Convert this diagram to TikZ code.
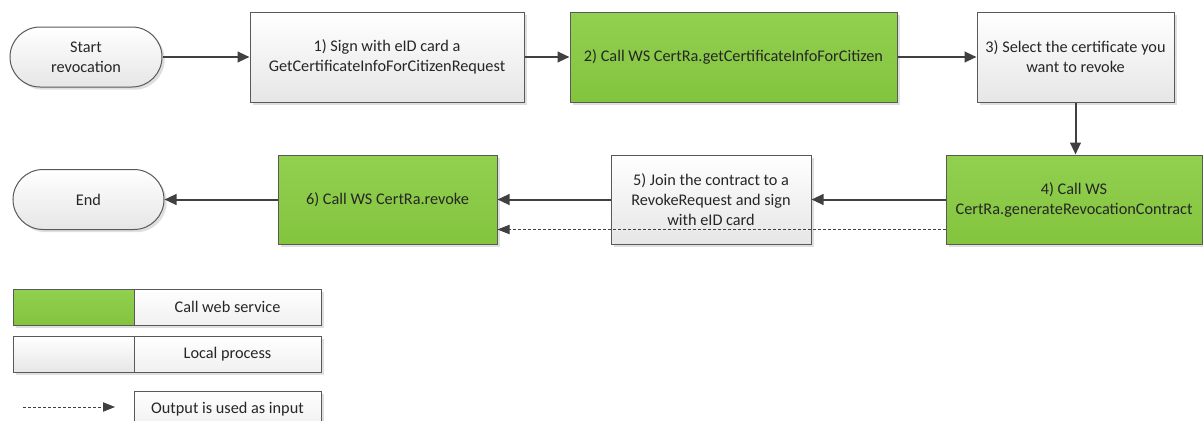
\documentclass[tikz,border=0pt]{standalone}
\usepackage{fontspec}
\setmainfont{Carlito}
\usetikzlibrary{arrows.meta,shadows}
\definecolor{wsgreen}{HTML}{92D050}
\definecolor{wsgreendark}{HTML}{83C43E}
\definecolor{boxline}{HTML}{595959}
\definecolor{flowgray}{HTML}{404040}
\definecolor{localgray}{HTML}{E6E6E6}

\begin{document}
\begin{tikzpicture}[x=0.75pt,y=-0.75pt,
   every node/.style={draw=boxline, line width=0.75pt, align=center, inner sep=0pt,
      font=\fontsize{12.2}{15}\selectfont, text=black!85},
   shade/.style={drop shadow={shadow xshift=2pt, shadow yshift=-2pt, fill=black!25, opacity=.5}},
   terminal/.style={shade, top color=white, bottom color=localgray, rounded corners=22.5pt,
      minimum height=45pt},
   local/.style={shade, top color=white, bottom color=localgray, minimum height=67.5pt},
   service/.style={shade, top color=wsgreen, bottom color=wsgreendark, minimum height=67.5pt},
   key/.style={shade, minimum width=90.75pt, minimum height=27pt},
   keytext/.style={shade, top color=white, bottom color=localgray!60, minimum width=140.25pt,
      minimum height=27pt},
   flow/.style={draw=flowgray, line width=1.5pt, -{Triangle[length=9pt, width=8pt]}},
   input/.style={draw=flowgray, line width=0.6pt, dash pattern=on 2.25pt off 1.5pt,
      -{Triangle[length=9pt, width=7pt]}}]

\useasboundingbox (0,0) rectangle (1203,421);

% first row
\node[terminal, minimum width=114pt] (start) at (86,57) {Start\\revocation};
\node[local, minimum width=205.5pt] (box1) at (387,57)
   {1) Sign with eID card a\\GetCertificateInfoForCitizenRequest};
\node[service, minimum width=245.25pt] (box2) at (733.5,57)
   {2) Call WS CertRa.getCertificateInfoForCitizen};
\node[local, minimum width=147.75pt] (box3) at (1075.5,57)
   {3) Select the certificate you\\want to revoke};

% second row
\node[service, minimum width=192pt, minimum height=66.75pt] (box4) at (1074,199.5)
   {4) Call WS\\CertRa.generateRevocationContract};
\node[local, minimum width=150pt, minimum height=66.75pt] (box5) at (711,199.5)
   {5) Join the contract to a\\RevokeRequest and sign\\with eID card};
\node[service, minimum width=164.25pt, minimum height=66.75pt] (box6) at (387.5,199.5)
   {6) Call WS CertRa.revoke};
\node[terminal, minimum width=113.25pt] (end) at (88.5,199.5) {End};

\draw[flow] (start) -- (box1);
\draw[flow] (box1) -- (box2);
\draw[flow] (box2) -- (box3);
\draw[flow] (box3.south) -- (box3.south |- box4.north);
\draw[flow] (box4) -- (box5);
\draw[flow] (box5) -- (box6);
\draw[flow] (box6) -- (end);
\draw[input] ([yshift=11.25pt]box4.south west) -- ([yshift=11.25pt]box6.south east);

% legend
\node[key, top color=wsgreen, bottom color=wsgreendark] (wskey) at (73.5,307) {};
\node[keytext] (wstext) at (227.5,307) {Call web service};
\node[key, top color=white, bottom color=localgray] (lpkey) at (73.5,354.5) {};
\node[keytext] (lptext) at (227.5,354.5) {Local process};
\node[keytext] (intext) at (227.5,409) {Output is used as input};
\coordinate (infrom) at (23,407);
\coordinate (into) at (115,407);
\draw[input] (infrom) -- (into);

\end{tikzpicture}
\end{document}
